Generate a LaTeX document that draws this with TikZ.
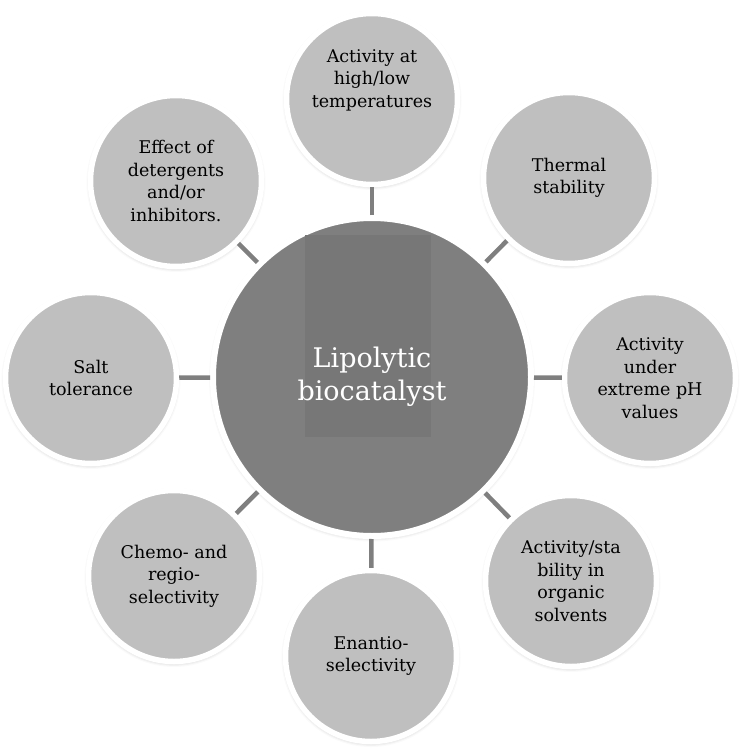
\documentclass[tikz,border=0pt]{standalone}
\usepackage{fontspec}
\setmainfont{DejaVu Serif}
\usetikzlibrary{shadows.blur}
\definecolor{smallfill}{HTML}{BFBFBF}
\definecolor{bigfill}{HTML}{7F7F7F}
\definecolor{rectfill}{HTML}{777777}
\definecolor{conncol}{HTML}{7F7F7F}
\tikzset{
  smallcirc/.style={circle, fill=smallfill, draw=white, line width=5.5pt,
    minimum size=171pt, inner sep=0pt, align=center, text=black,
    font=\fontsize{17.5}{22.5}\selectfont,
    blur shadow={shadow xshift=0pt, shadow yshift=-1.5pt, shadow blur radius=4pt, shadow opacity=30}},
  bigcirc/.style={circle, fill=bigfill, draw=white, line width=6pt,
    minimum size=318pt, inner sep=0pt,
    blur shadow={shadow xshift=0pt, shadow yshift=-1.5pt, shadow blur radius=4pt, shadow opacity=30}},
  smalltext/.style={align=center, text=black, inner sep=0pt, font=\fontsize{17.5}{22.5}\selectfont},
  bigtext/.style={align=center, text=white, inner sep=0pt, font=\fontsize{27}{33}\selectfont},
  conn/.style={draw=conncol, line width=4.5pt}
}
\begin{document}
\begin{tikzpicture}[x=1pt,y=-1pt]
\useasboundingbox (0,0) rectangle (745,752);
\node[bigcirc] (c) at (372,377) {};
\fill[rectfill] (305,235) rectangle (431,437);
\node[bigtext] (ct) at (372,377) {Lipolytic\\biocatalyst};

\node[smallcirc] (n1) at (372,99) {};
\node[smalltext] (t1) at (372,80) {Activity at\\high/low\\temperatures};
\node[smallcirc] (n2) at (569,178) {Thermal\\stability};
\node[smallcirc] (n3) at (650,378) {Activity\\under\\extreme pH\\values};
\node[smallcirc] (n4) at (571,581) {Activity/sta\\bility in\\organic\\solvents};
\node[smallcirc] (n5) at (371,656) {Enantio-\\selectivity};
\node[smallcirc] (n6) at (174,576) {Chemo- and\\regio-\\selectivity};
\node[smallcirc] (n7) at (91,378) {Salt\\tolerance};
\node[smallcirc] (n8) at (176,181) {Effect of\\detergents\\and/or\\inhibitors.};

\foreach \n in {n1,n2,n3,n4,n5,n6,n7,n8}
  \draw[conn] (c) -- (\n);
\end{tikzpicture}
\end{document}
